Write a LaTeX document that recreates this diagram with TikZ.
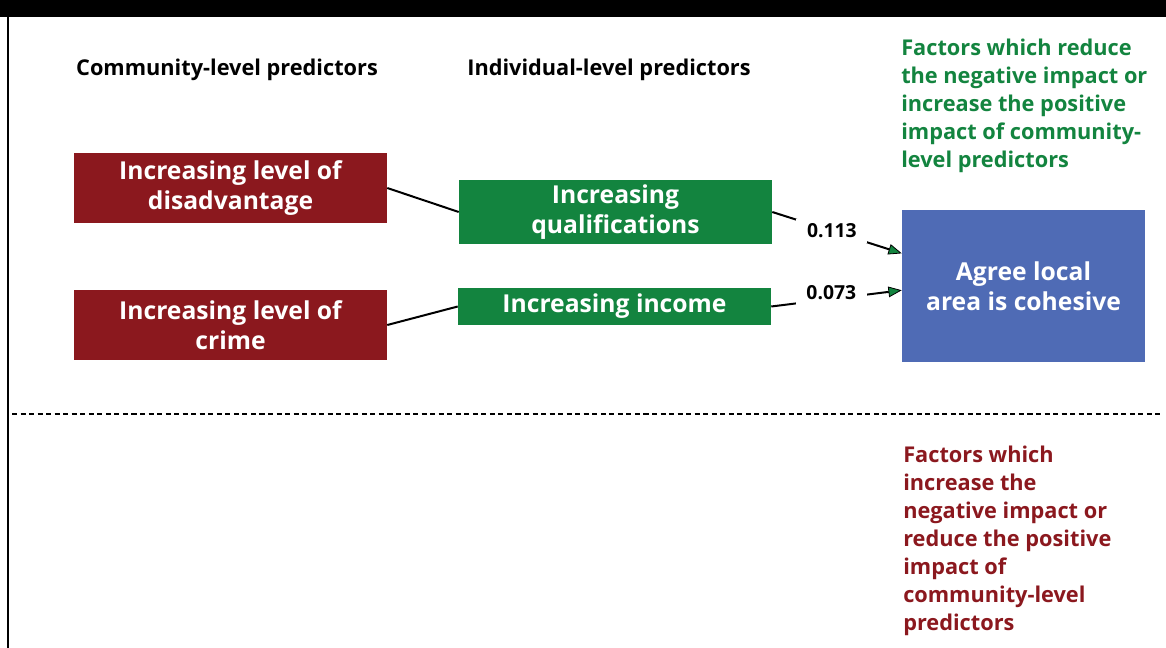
\documentclass[tikz,border=0pt]{standalone}
\usepackage{fontspec}
\setmainfont{Open Sans}
\usetikzlibrary{positioning, arrows.meta}
\definecolor{cf-red}{RGB}{139,24,30}
\definecolor{cf-green}{RGB}{19,132,63}
\definecolor{cf-blue}{RGB}{79,107,181}

\begin{document}
\begin{tikzpicture}[x=0.75pt, y=-0.75pt,
    box/.style={fill=#1, text=white, align=center, inner sep=0pt,
        font=\fontsize{18.5}{22.5}\selectfont\bfseries},
    head/.style={font=\fontsize{16.3}{20}\selectfont\bfseries},
    note/.style={anchor=north west, align=left, inner sep=0pt,
        font=\fontsize{16.3}{21}\selectfont\bfseries},
    coef/.style={fill=white, inner xsep=8pt, inner ysep=4pt, font=\fontsize{14.5}{16}\selectfont\bfseries},
    effect/.style={line width=1.5pt, -{Triangle[length=10pt, width=8pt, fill=cf-green, line width=0.6pt]}}]
    \useasboundingbox (0,0) rectangle (1166,648);
    % frame
    \fill (0,0) rectangle (1166,17);
    \draw[line width=1.1pt] (8,17) -- (8,648);
    % column heads
    \node[head] (comm) at (227,70) {Community-level predictors};
    \node[head] (indiv) at (609,70) {Individual-level predictors};
    % boxes
    \node[box=cf-red, minimum width=234.75pt, minimum height=52.5pt] (disadv) at (230.5,188) {Increasing level of\\disadvantage};
    \node[box=cf-red, minimum width=234.75pt, minimum height=52.5pt] (crime) at (230.5,325) {Increasing level of\\crime};
    \node[box=cf-green, minimum width=234.75pt, minimum height=48pt] (qual) at (615.5,212) {Increasing\\qualifications};
    \node[box=cf-green, minimum width=234.75pt, minimum height=27.75pt] (income) at (614.5,306.5) {Increasing income};
    \node[box=cf-blue, minimum width=182.25pt, minimum height=114pt] (cohesive) at (1023.5,286) {Agree local\\area is cohesive};
    % notes
    \node[note, text=cf-green] (reduce) at (901,39) {Factors which reduce\\the negative impact or\\increase the positive\\impact of community-\\level predictors};
    \node[note, text=cf-red] (increase) at (903,446) {Factors which\\increase the\\negative impact or\\reduce the positive\\impact of\\community-level\\predictors};
    % links
    \draw[line width=1.5pt]
    (disadv.east) edge (qual.west)
    (crime.east) edge (income.west);
    \draw[effect] (qual.east) -- node[coef, pos=0.46] {0.113} (cohesive.165);
    \draw[effect] (income.east) -- node[coef, pos=0.46, yshift=5pt] {0.073} (cohesive.182);
    % divider
    \draw[line width=1.3pt, dash pattern=on 3.8pt off 2.6pt] (12,414) -- (1160,414);
\end{tikzpicture}
\end{document}
